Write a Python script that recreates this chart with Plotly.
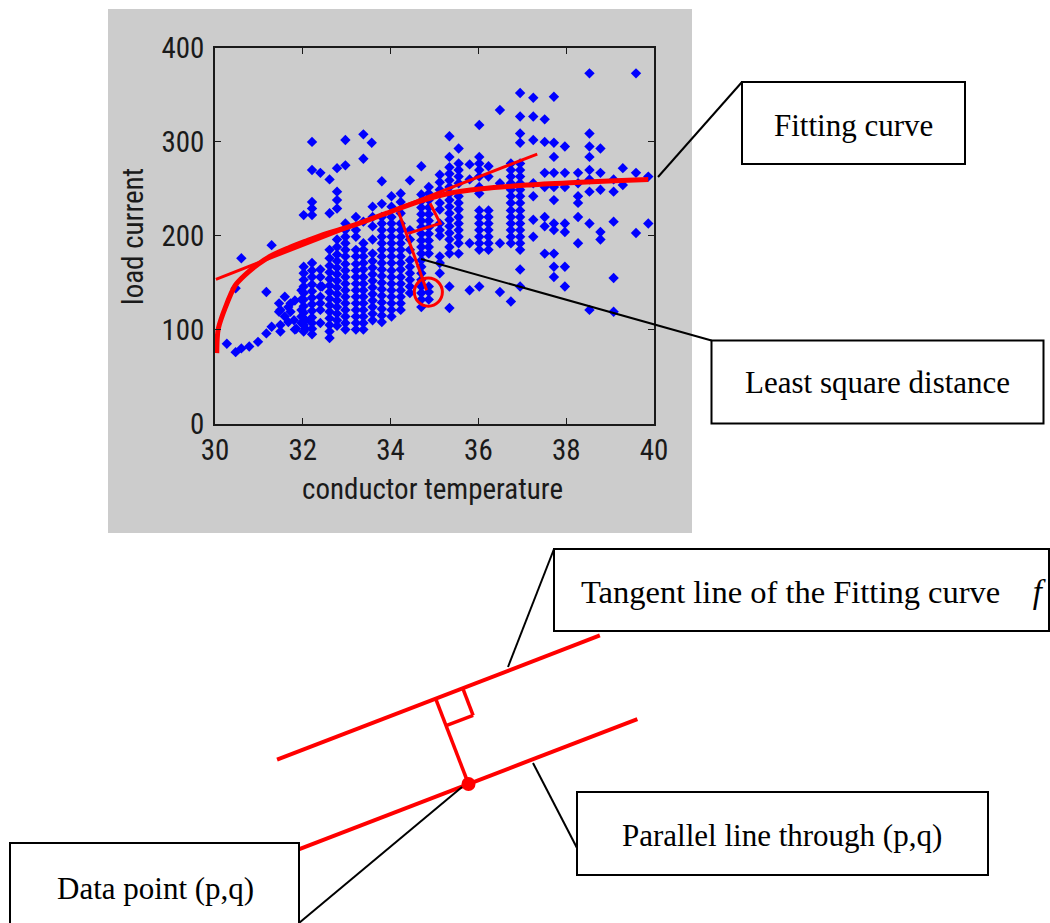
import plotly.graph_objects as go

# ---- scatter data: conductor temperature -> load current, grouped by column ----
cols_30_32 = {
    30.27: [85], 30.47: [76, 144], 30.60: [80, 176], 30.78: [82], 30.98: [87],
    31.17: [96, 140], 31.29: [103, 190], 31.46: [119, 128], 31.49: [98, 105, 121],
    31.59: [114, 135], 31.67: [108, 124], 31.72: [119, 128], 31.80: [110],
    31.82: [100, 131], 31.85: [101], 31.97: [107, 114, 121, 132, 142],
}
cols_32_34 = {
    32.02: [98, 105, 112, 118, 125, 132, 139, 146, 153, 160, 167, 222],
    32.06: [101, 110],
    32.21: [95, 101, 107, 113, 120, 127, 134, 141, 148, 156, 163, 171, 222, 229, 236, 270, 300],
    32.40: [107, 121, 128, 135, 146, 156, 164, 267],
    32.44: [146],
    32.61: [91, 98, 105, 112, 119, 126, 133, 140, 147, 154, 161, 168, 176, 185, 224, 260],
    32.78: [104, 110, 117, 124, 131, 138, 145, 152, 159, 166, 173, 180, 188, 196,
            229, 238, 247, 272],
    32.97: [100, 107, 114, 121, 128, 135, 142, 149, 156, 163, 170, 178, 185, 192, 199,
            206, 213, 275, 302],
    33.21: [100, 107, 114, 121, 128, 135, 142, 149, 156, 163, 170, 178, 185, 199, 206, 220],
    33.38: [100, 107, 114, 121, 128, 135, 142, 149, 156, 164, 171, 178, 185, 192, 215,
            282, 308],
    33.57: [299],
    33.59: [110, 117, 124, 131, 138, 145, 152, 159, 166, 173, 181, 196, 210, 220, 231],
    33.80: [108, 115, 122, 129, 136, 143, 150, 157, 164, 171, 178, 185, 192, 199, 206,
            213, 220, 234, 258],
}
cols_34_36 = {
    34.02: [114, 121, 128, 135, 142, 149, 156, 163, 171, 178, 185, 192, 199, 206, 213,
            220, 231, 242],
    34.23: [121, 128, 135, 142, 149, 156, 164, 171, 178, 185, 192, 199, 206, 213, 224,
            236, 245],
    34.44: [139, 146, 153, 160, 167, 174, 185, 196, 206, 259],
    34.70: [124, 132, 139, 146, 153, 160, 167, 174, 181, 188, 195, 202, 209, 216, 223,
            230, 237, 244, 274],
    34.87: [132, 140, 146, 181, 188, 195, 202, 209, 216, 223, 230, 238, 245, 252],
    35.12: [160, 171, 178, 200, 206, 213, 228, 235, 249, 257, 265],
    35.34: [123, 146, 181, 188, 196, 203, 210, 217, 224, 231, 238, 245, 252, 259, 266,
            273, 284, 306],
    35.55: [181, 192, 199, 206, 213, 220, 228, 235, 242, 256, 263, 270, 277, 293],
    35.80: [142, 192, 260, 276],
}
cols_36_40 = {
    36.02: [146, 185, 192, 199, 206, 213, 220, 227, 245, 252, 263, 270, 277, 284, 318],
    36.23: [185, 192, 199, 206, 213, 220, 227, 263, 274],
    36.49: [140, 192, 256, 334],
    36.74: [130, 192, 199, 206, 213, 220, 227, 235, 242, 249, 256, 263, 270, 277],
    36.95: [146, 164, 185, 192, 199, 206, 213, 220, 227, 235, 242, 249, 256, 263, 270,
            277, 299, 309, 327, 352],
    37.25: [199, 217, 242, 256, 302, 327, 347],
    37.51: [181, 210, 220, 252, 267, 300, 324],
    37.72: [156, 167, 181, 206, 213, 238, 252, 267, 284, 299, 348],
    37.97: [146, 167, 204, 213, 252, 267, 295],
    38.27: [192, 220, 235, 242, 256, 267],
    38.53: [121, 213, 247, 260, 270, 284, 295, 309, 373],
    38.78: [196, 204, 249, 267, 293],
    39.08: [119, 155, 215, 247, 260],
    39.29: [254, 272],
    39.59: [203, 267, 373],
    39.87: [213, 263],
}

# fitted curve
fit_temp = [30.04, 30.05, 30.075, 30.23, 30.46, 30.68, 30.99, 31.29, 31.67, 32.05,
            32.45, 33.15, 33.91, 34.62, 35.31, 36.07, 37.1, 38.09, 39.11, 39.87]
fit_load = [75, 90, 101, 123, 147, 158, 170, 179, 187, 194,
            201, 211, 224, 236, 245, 250, 254, 256.5, 258.6, 260]

# tangent line, perpendicular and right-angle marker inside the chart
tangent_temp = [30.02, 37.34]
tangent_load = [153.6, 287]
perp_temp = [34.82, 34.18]
perp_load = [142, 225.6]
square_temp = [34.40, 35.13, 34.90]
square_load = [202.6, 213.2, 234.5]
circled_point = (34.86, 140)

x_ticks = [30, 32, 34, 36, 38, 40]
y_ticks = [0, 100, 200, 300, 400]

W, H = 1050, 923


def fx(p):
    return p / W


def fy(p):
    return 1 - p / H


temps, loads = [], []
for group in (cols_30_32, cols_32_34, cols_34_36, cols_36_40):
    for t, ys in group.items():
        for v in ys:
            temps.append(t)
            loads.append(v)

red = "#FF0000"
fig = go.Figure()
fig.add_trace(go.Scatter(
    x=temps, y=loads, mode="markers",
    marker=dict(symbol="diamond", size=8, color="#0000FF", line=dict(width=0)),
    hoverinfo="skip", showlegend=False))
fig.add_trace(go.Scatter(
    x=fit_temp, y=fit_load, mode="lines",
    line=dict(color=red, width=5, shape="spline", smoothing=0.8), showlegend=False))
fig.add_trace(go.Scatter(
    x=tangent_temp, y=tangent_load, mode="lines",
    line=dict(color=red, width=3), showlegend=False))
fig.add_trace(go.Scatter(
    x=perp_temp, y=perp_load, mode="lines",
    line=dict(color=red, width=3), showlegend=False))
fig.add_trace(go.Scatter(
    x=square_temp, y=square_load, mode="lines",
    line=dict(color=red, width=3), showlegend=False))

shapes = []
# grey figure panel behind the chart
shapes.append(dict(type="rect", xref="paper", yref="paper", layer="below",
                   x0=fx(108), x1=fx(692), y0=fy(533), y1=fy(9),
                   fillcolor="#CCCCCC", line=dict(width=0)))
# circle around the chosen data point
cx, cy = circled_point
shapes.append(dict(type="circle", xref="x", yref="y",
                   x0=cx - 0.32, x1=cx + 0.32, y0=cy - 15, y1=cy + 15,
                   line=dict(color=red, width=3)))

# ---- schematic below the chart ----
P = (468.5, 784.0)           # data point (p,q)
u = (0.933, -0.359)          # tangent direction
n = (-0.359, -0.933)         # normal, towards the fitted curve
dist = 91.5
side = 29
foot = (P[0] + dist * n[0], P[1] + dist * n[1])


def along(pt, a, b=0.0):
    return (pt[0] + a * u[0] + b * n[0], pt[1] + a * u[1] + b * n[1])


def seg(p0, p1, color, width):
    return dict(type="line", xref="paper", yref="paper",
                x0=fx(p0[0]), y0=fy(p0[1]), x1=fx(p1[0]), y1=fy(p1[1]),
                line=dict(color=color, width=width))


shapes.append(seg(along(foot, -170), along(foot, 176), red, 4))
shapes.append(seg(along(P, -182), along(P, 181), red, 4))
shapes.append(seg(P, foot, red, 3.5))
sq1 = along(foot, side)
sq2 = along(foot, side, -side)
sq3 = along(foot, 0, -side)
shapes.append(seg(sq1, sq2, red, 3.5))
shapes.append(seg(sq2, sq3, red, 3.5))
shapes.append(dict(type="circle", xref="paper", yref="paper",
                   x0=fx(P[0] - 7), x1=fx(P[0] + 7), y0=fy(P[1] + 7), y1=fy(P[1] - 7),
                   fillcolor=red, line=dict(width=0)))

serif = "Liberation Serif, Times New Roman, serif"
# callout boxes: (left, top, right, bottom), label, text centre, font size
boxes = [
    ((742, 82, 965, 164), "Fitting curve", (853, 125), 31),
    ((711.5, 340.5, 1043.5, 423.5), "Least square distance", (877, 383), 31),
    ((554, 549, 1049, 631),
     "Tangent line of the Fitting curve&nbsp;&nbsp;&nbsp;&nbsp;<i><span style='font-size:33px'>f</span></i>",
     (813, 592), 32.5),
    ((577, 792, 988, 875), "Parallel line through (p,q)", (782, 835), 31),
    ((10, 843, 299, 935), "Data point (p,q)", (155, 888), 31),
]
annotations = []
for (l, t, r, b), label, (tx, ty), fs in boxes:
    shapes.append(dict(type="rect", xref="paper", yref="paper",
                       x0=fx(l), x1=fx(r), y0=fy(b), y1=fy(t),
                       fillcolor="white", line=dict(color="black", width=2)))
    annotations.append(dict(xref="paper", yref="paper", x=fx(tx), y=fy(ty),
                            text=label, showarrow=False, xanchor="center", yanchor="middle",
                            font=dict(family=serif, size=fs, color="black")))

leaders = [
    ((658, 177), (742, 82)),
    ((421, 259), (711.5, 340.5)),
    ((508, 667), (554, 549)),
    ((533, 763), (577, 848)),
    ((462, 787), (299, 923)),
]
for a, b in leaders:
    shapes.append(seg(a, b, "black", 2))

axis_font = dict(family="Roboto Condensed, DejaVu Sans Condensed, sans-serif",
                 size=29, color="#1a1a1a")
annotations.append(dict(xref="paper", yref="paper", x=fx(432), y=fy(489),
                        text="conductor temperature", showarrow=False,
                        xanchor="center", yanchor="middle", font=axis_font))
annotations.append(dict(xref="paper", yref="paper", x=fx(133), y=fy(237),
                        text="load current", showarrow=False, textangle=-90,
                        xanchor="center", yanchor="middle", font=axis_font))

axis_common = dict(ticks="inside", ticklen=6, tickcolor="#1a1a1a", tickwidth=1.2,
                   showline=True, linecolor="#1a1a1a", linewidth=1.6, mirror="ticks",
                   showgrid=False, zeroline=False, tickfont=axis_font, automargin=False)

fig.update_layout(
    width=W, height=H, margin=dict(l=0, r=0, t=0, b=0, autoexpand=False),
    paper_bgcolor="white", plot_bgcolor="white",
    shapes=shapes, annotations=annotations, showlegend=False,
    xaxis=dict(domain=[fx(215), fx(654)], range=[30, 40], tickvals=x_ticks,
               ticklabelstandoff=0, **axis_common),
    yaxis=dict(domain=[fy(423.5), fy(48)], range=[0, 400], tickvals=y_ticks,
               ticklabelstandoff=3, **axis_common),
)

fig.write_html("out.html")
